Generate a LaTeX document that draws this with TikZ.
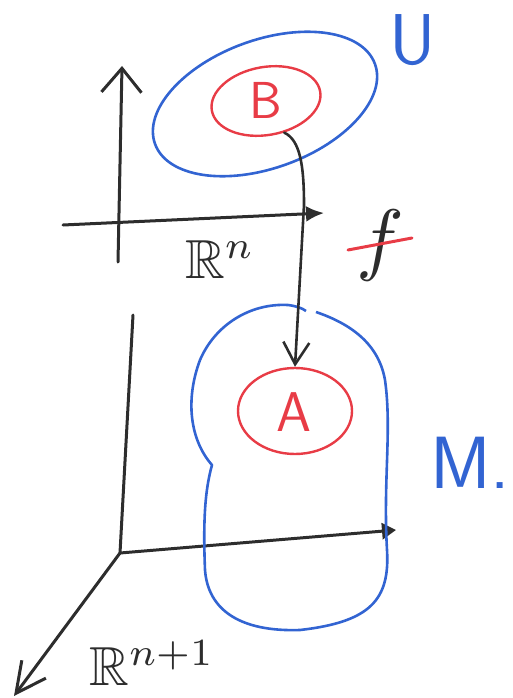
\documentclass[tikz,border=0pt]{standalone}
\usepackage{amssymb}
\usepackage{graphicx}
\usetikzlibrary{shapes.geometric,arrows.meta}
\definecolor{pblue}{RGB}{50,100,210}
\definecolor{pred}{RGB}{232,60,70}
\definecolor{pink}{RGB}{45,45,45}
\begin{document}
\begin{tikzpicture}[x=1pt,y=-1pt,
  axis/.style={draw=pink,line width=3pt,line cap=round,line join=round},
  blueline/.style={draw=pblue,line width=2.6pt},
  redline/.style={draw=pred,line width=2.4pt},
  bigtxt/.style={font=\sffamily\fontsize{#1}{#1}\selectfont}]
\useasboundingbox (0,0) rectangle (513,698);
% upper axes
\coordinate (uyb) at (118,262);
\coordinate (uyt) at (122,66);
\coordinate (uxl) at (63,225);
\coordinate (uxr) at (324,213);
\draw[axis,-{Straight Barb[length=24pt,width=40pt,line width=3pt]}] (uyb) -- (uyt);
\draw[axis,-{Latex[length=18pt,width=16pt]}] (uxl) -- (uxr);
\node[text=pink,inner sep=0pt] (rn) at (220,260) {\scalebox{5.5}{$\mathbb{R}^n$}};
% U
\node[ellipse,blueline,minimum width=234pt,minimum height=128pt,rotate=20] (U) at (265,104) {};
\node[bigtxt=72,text=pblue] (Ulab) at (413,40) {U};
% B
\node[ellipse,redline,minimum width=110pt,minimum height=68pt,rotate=10] (Bell) at (266,101) {};
\node[bigtxt=52,text=pred] (B) at (266,100) {B};
% lower axes
\coordinate (O) at (120,553);
\coordinate (lyt) at (133,315);
\coordinate (lxr) at (396,530);
\coordinate (ldiag) at (14,696);
\draw[axis] (lyt) -- (O);
\draw[axis,-{Triangle[length=14pt,width=16pt]}] (O) -- (lxr);
\draw[axis,-{Straight Barb[length=30pt,width=30pt,line width=3pt]}] (O) -- (ldiag);
\node[text=pink,inner sep=0pt] (rn1) at (152,663) {\scalebox{5.5}{$\mathbb{R}^{n+1}$}};
% M blob
\draw[blueline,line join=round] (316,312) .. controls (345,322) and (378,340) .. (385,380)
  .. controls (392,430) and (383,480) .. (387,550)
  .. controls (390,600) and (370,622) .. (300,630)
  .. controls (240,632) and (208,610) .. (205,570)
  .. controls (203,520) and (205,490) .. (212,465)
  .. controls (190,440) and (185,400) .. (200,360)
  .. controls (215,325) and (250,303) .. (288,305)
  .. controls (296,306) and (302,308) .. (306,311);
\node[bigtxt=74,text=pblue] (Mlab) at (470,463) {M.};
% A
\node[ellipse,redline,minimum width=114pt,minimum height=86pt] (Aell) at (295,411) {};
\node[bigtxt=56,text=pred] (A) at (294,412) {A};
% f connector
\draw[axis,line width=2.6pt,-{Straight Barb[length=22pt,width=26pt,line width=2.6pt]}]
  (Bell.-70) .. controls (300,140) and (304,165) .. (304,205) -- (Aell.north);
% f label
\node[text=pink,inner sep=0pt] (f) at (380,245) {\scalebox{8}{$f$}};
\draw[redline,line width=3pt,line cap=round] (348,250) -- (412,238);
\end{tikzpicture}
\end{document}
